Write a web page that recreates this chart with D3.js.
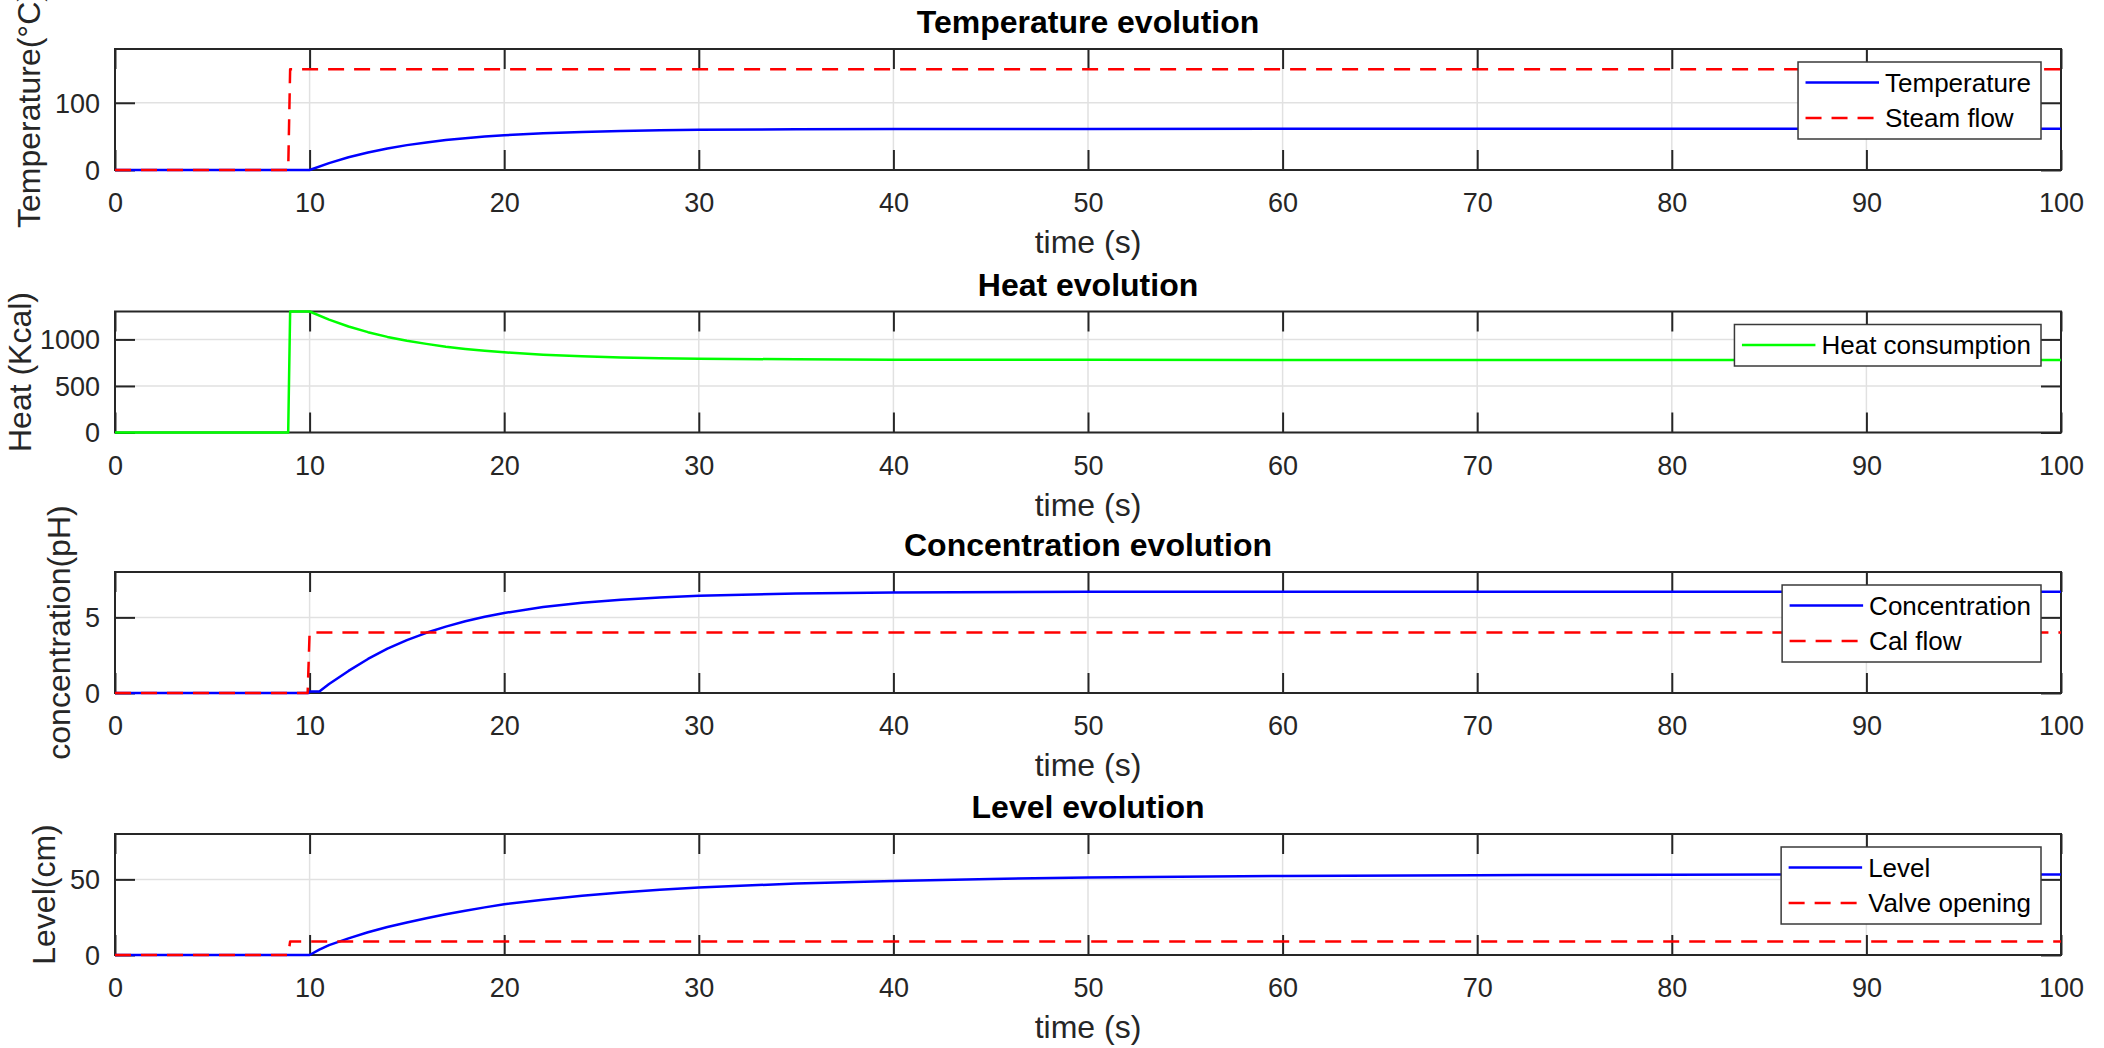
<!DOCTYPE html>
<html>
<head>
<meta charset="utf-8">
<script src="https://cdn.jsdelivr.net/npm/d3@7"></script>
<style>
  body { margin: 0; background: #ffffff; }
  svg { display: block; }
  text { font-family: "Liberation Sans", Arial, Helvetica, sans-serif; }
</style>
</head>
<body>
<svg id="chart" width="2104" height="1048"></svg>
<script>
// ---------------- data ----------------
const xTickValues = [0, 10, 20, 30, 40, 50, 60, 70, 80, 90, 100];
const xLabelText = "time (s)";

const titles = ["Temperature evolution", "Heat evolution", "Concentration evolution", "Level evolution"];
const yLabels = ["Temperature(°C)", "Heat (Kcal)", "concentration(pH)", "Level(cm)"];
const yMaxes = [180, 1300, 8, 80];
const yTicks1 = [0, 100];
const yTicks2 = [0, 500, 1000];
const yTicks3 = [0, 5];
const yTicks4 = [0, 50];

// Panel 1
const temperatureT = [0, 10, 11, 12, 13, 14, 15, 16, 17, 18, 19, 20, 22, 24, 26, 28, 30, 35, 40, 50, 60, 100];
const temperatureV = [0, 0, 10.3, 18.9, 26.1, 32.1, 37.0, 41.0, 44.5, 47.3, 49.7, 51.6, 54.6, 56.6, 58.0, 59.0, 59.7, 60.5, 60.9, 61.1, 61.2, 61.2];
const steamT = [0, 8.9, 9, 100];
const steamV = [0, 0, 150, 150];

// Panel 2
const heatT = [0, 8.9, 9, 10, 11, 12, 13, 14, 15, 16, 17, 18, 19, 20, 22, 24, 26, 28, 30, 35, 40, 50, 60, 100];
const heatV = [0, 0, 1300, 1300, 1212, 1139, 1078, 1027, 986, 952, 922, 898, 878, 862, 836, 819, 807, 799, 793, 786, 782, 781, 780, 780];

// Panel 3
const concentrationT = [0, 9.95, 10, 10.5, 11, 12, 13, 14, 15, 16, 17, 18, 19, 20, 22, 24, 26, 28, 30, 35, 40, 50, 60, 100];
const concentrationV = [0, 0, 0.1, 0.1, 0.6, 1.46, 2.25, 2.93, 3.5, 3.98, 4.39, 4.74, 5.04, 5.29, 5.68, 5.97, 6.17, 6.32, 6.43, 6.58, 6.65, 6.69, 6.7, 6.7];
const calFlowT = [0, 9.9, 10, 100];
const calFlowV = [0, 0, 4, 4];

// Panel 4
const levelT = [0, 10, 10.5, 11, 12, 13, 14, 15, 16, 17, 18, 19, 20, 22, 24, 26, 28, 30, 35, 40, 45, 50, 60, 70, 80, 90, 100];
const levelV = [0, 0, 3.5, 6.5, 11, 15, 18.5, 21.5, 24.3, 26.9, 29.2, 31.5, 33.6, 36.6, 39.2, 41.3, 43.1, 44.7, 47.2, 49, 50.3, 51.2, 52.3, 52.8, 53.1, 53.2, 53.3];
const valveT = [0, 8.9, 9, 100];
const valveV = [0, 0, 9, 9];

// ---------------- layout / style ----------------
const LEFT = 115, RIGHT = 2061;
const TOPS = [49, 311.5, 572, 834];
const PH = 121;
const AX = "#262626";
const GRID = "#e1e1e1";
const BLUE = "#0000ff", RED = "#ff0000", GREEN = "#00ff00";
const DASH = "16,10";
const TICK_FS = 27, LABEL_FS = 32, TITLE_FS = 32, LEG_FS = 26;

const zip = (t, v) => t.map((d, i) => [d, v[i]]);

const panels = [
  { yTicks: yTicks1, series: [
      { name: "Temperature", data: zip(temperatureT, temperatureV), color: BLUE, dash: null },
      { name: "Steam flow", data: zip(steamT, steamV), color: RED, dash: DASH } ] },
  { yTicks: yTicks2, series: [
      { name: "Heat consumption", data: zip(heatT, heatV), color: GREEN, dash: null } ] },
  { yTicks: yTicks3, series: [
      { name: "Concentration", data: zip(concentrationT, concentrationV), color: BLUE, dash: null },
      { name: "Cal flow", data: zip(calFlowT, calFlowV), color: RED, dash: DASH } ] },
  { yTicks: yTicks4, series: [
      { name: "Level", data: zip(levelT, levelV), color: BLUE, dash: null },
      { name: "Valve opening", data: zip(valveT, valveV), color: RED, dash: DASH } ] }
];

const svg = d3.select("#chart");
const x = d3.scaleLinear().domain([0, 100]).range([LEFT, RIGHT]);

panels.forEach((p, i) => {
  const top = TOPS[i], bottom = top + PH;
  const y = d3.scaleLinear().domain([0, yMaxes[i]]).range([bottom, top]);
  const g = svg.append("g");

  // grid
  g.append("g").selectAll("line").data(xTickValues).join("line")
    .attr("x1", d => x(d)).attr("x2", d => x(d))
    .attr("y1", top).attr("y2", bottom)
    .attr("stroke", GRID).attr("stroke-width", 1.5);
  g.append("g").selectAll("line").data(p.yTicks).join("line")
    .attr("x1", LEFT).attr("x2", RIGHT)
    .attr("y1", d => y(d)).attr("y2", d => y(d))
    .attr("stroke", GRID).attr("stroke-width", 1.5);

  // axes (ticks inside)
  const styleAxis = sel => {
    sel.attr("color", AX).attr("font-family", null).attr("font-size", null);
    sel.select(".domain").remove();
    sel.selectAll(".tick line").attr("stroke-width", 2);
    sel.selectAll(".tick text").attr("font-size", TICK_FS).attr("fill", AX);
  };
  g.append("g").attr("transform", `translate(0,${bottom})`)
    .call(d3.axisBottom(x).tickValues(xTickValues).tickSizeInner(-20).tickSizeOuter(0).tickPadding(23).tickFormat(d3.format("d")))
    .call(styleAxis);
  g.append("g").attr("transform", `translate(0,${top})`)
    .call(d3.axisTop(x).tickValues(xTickValues).tickSizeInner(-20).tickSizeOuter(0).tickFormat(""))
    .call(styleAxis);
  const yAxisG = g.append("g").attr("transform", `translate(${LEFT},0)`)
    .call(d3.axisLeft(y).tickValues(p.yTicks).tickSizeInner(-20).tickSizeOuter(0).tickPadding(15).tickFormat(d3.format("d")))
    .call(styleAxis);
  yAxisG.selectAll(".tick text").attr("dy", "0.35em");
  g.append("g").attr("transform", `translate(${RIGHT},0)`)
    .call(d3.axisRight(y).tickValues(p.yTicks).tickSizeInner(-20).tickSizeOuter(0).tickFormat(""))
    .call(styleAxis);

  // box
  g.append("rect").attr("x", LEFT).attr("y", top).attr("width", RIGHT - LEFT).attr("height", PH)
    .attr("fill", "none").attr("stroke", AX).attr("stroke-width", 2);

  // title
  g.append("text").attr("x", (LEFT + RIGHT) / 2).attr("y", top - 16)
    .attr("text-anchor", "middle").attr("font-size", TITLE_FS).attr("font-weight", "bold")
    .attr("fill", "#000").text(titles[i]);

  // x label
  g.append("text").attr("x", (LEFT + RIGHT) / 2).attr("y", bottom + 83)
    .attr("text-anchor", "middle").attr("font-size", LABEL_FS).attr("fill", AX).text(xLabelText);

  // y label
  let maxW = 0;
  yAxisG.selectAll(".tick text").each(function () { maxW = Math.max(maxW, this.getComputedTextLength()); });
  const lx = Math.max(31, LEFT - 15 - maxW - 15);
  g.append("text").attr("transform", `translate(${lx},${(top + bottom) / 2}) rotate(-90)`)
    .attr("text-anchor", "middle").attr("font-size", LABEL_FS).attr("fill", AX).text(yLabels[i]);

  // lines
  const line = d3.line().x(d => x(d[0])).y(d => y(d[1]));
  p.series.forEach(s => {
    g.append("path").attr("d", line(s.data)).attr("fill", "none")
      .attr("stroke", s.color).attr("stroke-width", 2.5)
      .attr("stroke-dasharray", s.dash).attr("stroke-linejoin", "round");
  });

  // legend
  const lg = g.append("g");
  const n = p.series.length;
  const rowH = 35.5;
  const texts = p.series.map((s, k) => lg.append("text").attr("font-size", LEG_FS).attr("fill", "#000").text(s.name));
  let tw = 0;
  texts.forEach(t => { tw = Math.max(tw, t.node().getComputedTextLength()); });
  const boxW = 7.5 + 73.5 + 6 + tw + 10;
  const boxH = 20.5 + (n - 1) * rowH + 21;
  const bx = RIGHT - 20 - boxW, by = top + 13;
  lg.insert("rect", ":first-child").attr("x", bx).attr("y", by).attr("width", boxW).attr("height", boxH)
    .attr("fill", "#fff").attr("stroke", "#3a3a3a").attr("stroke-width", 1.5);
  p.series.forEach((s, k) => {
    const cy = by + 20.5 + k * rowH;
    lg.append("line").attr("x1", bx + 7.5).attr("x2", bx + 81).attr("y1", cy).attr("y2", cy)
      .attr("stroke", s.color).attr("stroke-width", 2.5).attr("stroke-dasharray", s.dash);
    texts[k].attr("x", bx + 87).attr("y", cy + 9);
  });
});
</script>
</body>
</html>
